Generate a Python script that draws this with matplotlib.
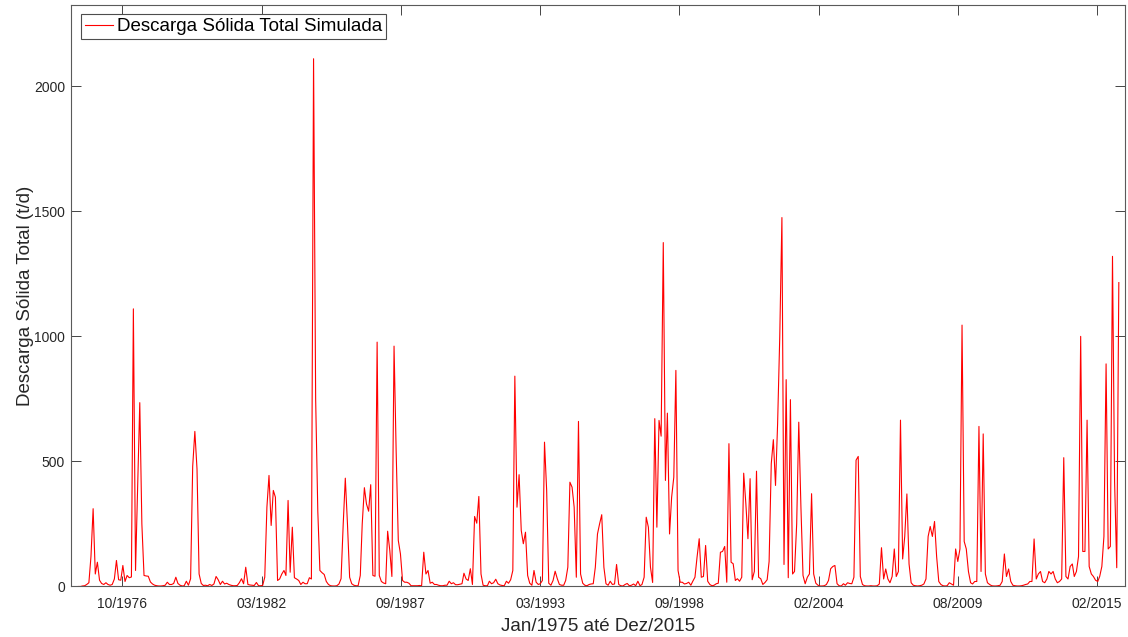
import datetime as dt
import numpy as np
import matplotlib
matplotlib.use("Agg")
import matplotlib.pyplot as plt
import matplotlib.dates as mdates

# Monthly simulated total solid discharge (t/d), one row per year (Jan..Dec)
descarga_1975_1984 = [
    0, 0, 2, 3, 8, 15, 120, 311, 50, 97, 25, 12,            # 1975
    8, 15, 8, 5, 8, 30, 104, 27, 25, 84, 20, 44,            # 1976
    35, 38, 1110, 64, 400, 735, 250, 44, 42, 41, 18, 10,    # 1977
    5, 3, 2, 2, 3, 5, 17, 8, 8, 12, 37, 12,                 # 1978
    5, 2, 3, 21, 5, 31, 480, 620, 470, 50, 12, 4,           # 1979
    5, 3, 8, 4, 10, 40, 27, 8, 21, 10, 13, 8,               # 1980
    5, 3, 3, 4, 15, 31, 11, 77, 8, 6, 5, 4,                 # 1981
    16, 3, 3, 4, 37, 317, 444, 244, 384, 357, 24, 30,       # 1982
    50, 64, 44, 344, 57, 237, 35, 30, 24, 8, 17, 11,        # 1983
    11, 35, 30, 2110, 750, 300, 64, 55, 48, 20, 8, 3,       # 1984
]
descarga_1985_1994 = [
    2, 2, 3, 10, 31, 250, 433, 250, 37, 11, 5, 3,           # 1985
    3, 44, 250, 395, 330, 301, 407, 44, 41, 977, 44, 20,    # 1986
    14, 11, 221, 144, 40, 961, 544, 184, 130, 24, 17, 17,   # 1987
    13, 3, 3, 3, 3, 4, 3, 137, 50, 64, 13, 17,              # 1988
    8, 8, 5, 3, 3, 5, 5, 21, 11, 15, 7, 7,                  # 1989
    9, 11, 53, 30, 24, 71, 8, 280, 253, 360, 50, 5,         # 1990
    3, 3, 21, 11, 15, 29, 11, 6, 4, 3, 21, 13,              # 1991
    27, 64, 841, 317, 447, 224, 171, 217, 44, 13, 5, 64,    # 1992
    17, 8, 11, 24, 577, 384, 13, 5, 24, 61, 31, 8,          # 1993
    5, 5, 24, 77, 417, 397, 317, 37, 660, 50, 13, 5,        # 1994
]
descarga_1995_2004 = [
    3, 8, 10, 11, 77, 210, 250, 287, 77, 11, 5, 21,         # 1995
    8, 10, 88, 8, 3, 2, 8, 12, 3, 5, 10, 3,                 # 1996
    21, 3, 8, 37, 277, 237, 77, 16, 671, 237, 664, 601,     # 1997
    1375, 424, 693, 210, 357, 437, 864, 64, 17, 17, 10, 12, # 1998
    17, 5, 21, 37, 117, 191, 37, 40, 164, 21, 8, 3,         # 1999
    5, 11, 13, 137, 140, 160, 17, 571, 97, 91, 24, 31,      # 2000
    21, 37, 453, 331, 191, 431, 27, 60, 461, 37, 31, 8,     # 2001
    16, 27, 100, 491, 587, 404, 650, 1000, 1475, 88, 827, 35,  # 2002
    747, 50, 60, 250, 657, 317, 44, 11, 37, 50, 371, 50,    # 2003
    13, 5, 2, 2, 3, 8, 24, 71, 80, 84, 11, 3,               # 2004
]
descarga_2005_2015 = [
    2, 11, 5, 15, 12, 11, 37, 505, 520, 40, 8, 3,           # 2005
    2, 2, 3, 2, 2, 3, 10, 155, 30, 70, 30, 15,              # 2006
    40, 150, 40, 60, 665, 110, 200, 370, 90, 15, 5, 3,      # 2007
    2, 3, 5, 10, 30, 200, 240, 200, 260, 120, 20, 8,        # 2008
    3, 2, 3, 15, 10, 5, 150, 100, 150, 1045, 180, 150,      # 2009
    60, 15, 10, 20, 20, 640, 60, 610, 50, 15, 8, 3,         # 2010
    2, 2, 3, 5, 20, 130, 40, 70, 20, 5, 3, 2,               # 2011
    2, 3, 5, 8, 10, 20, 20, 190, 30, 50, 60, 20,            # 2012
    15, 30, 60, 50, 60, 30, 15, 20, 30, 515, 40, 30,        # 2013
    80, 90, 40, 60, 120, 1000, 140, 140, 665, 80, 50, 40,   # 2014
    25, 20, 40, 80, 200, 890, 150, 160, 1320, 420, 75, 1215,  # 2015
]

serie_label = "Descarga Sólida Total Simulada"
y_label = "Descarga Sólida Total (t/d)"
x_label = "Jan/1975 até Dez/2015"
y_ticks = [0, 500, 1000, 1500, 2000]
# date ticks every 2000 days on the MATLAB serial-date scale
datenum_ticks = [722000, 724000, 726000, 728000, 730000, 732000, 734000, 736000]

valores = np.array(descarga_1975_1984 + descarga_1985_1994
                   + descarga_1995_2004 + descarga_2005_2015, dtype=float)
datas = [dt.datetime(1975 + i // 12, i % 12 + 1, 15) for i in range(len(valores))]

plt.rcParams["font.family"] = ["Liberation Sans", "DejaVu Sans"]
cinza = "#262626"

fig = plt.figure(figsize=(11.28, 6.37), dpi=100)
ax = fig.add_axes([0.0625, 0.0793, 0.9348, 0.9129])

ax.plot(datas, valores, color="red", lw=0.8, label=serie_label)

tick_dates = [dt.datetime.fromordinal(d - 366) for d in datenum_ticks]
ax.set_xticks(tick_dates)
ax.xaxis.set_major_formatter(mdates.DateFormatter("%m/%Y"))
ax.set_xlim(dt.datetime(1974, 9, 24), dt.datetime(2016, 3, 12))
ax.set_yticks(y_ticks)
ax.set_ylim(0, 2325)

ax.tick_params(axis="both", which="major", direction="in", length=7.2, width=0.6,
               colors=cinza, labelsize=10, top=True, right=True)
ax.tick_params(axis="x", pad=7.7)
ax.tick_params(axis="y", pad=4)
for s in ax.spines.values():
    s.set_color("#5a5a5a")
    s.set_linewidth(0.8)

ax.set_ylabel(y_label, fontsize=13.5, color=cinza)
ax.yaxis.set_label_coords(-0.035, 0.5)
ax.set_xlabel(x_label, fontsize=13.5, color=cinza)
ax.xaxis.set_label_coords(0.5, -0.0536)

leg = ax.legend(loc="upper left", bbox_to_anchor=(0.00996, 0.9845), borderaxespad=0,
                fontsize=13.5, fancybox=False, framealpha=1, edgecolor="#4d4d4d",
                borderpad=0.22, handlelength=1.5, handletextpad=0.2)
leg.get_frame().set_linewidth(0.8)

fig.savefig("out.png", dpi=100)
